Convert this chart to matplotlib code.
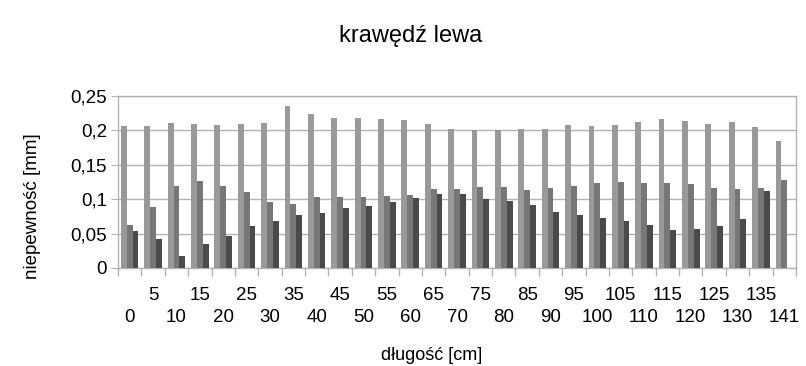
import matplotlib
matplotlib.use("Agg")
import matplotlib.pyplot as plt
import matplotlib.transforms as mtransforms
import numpy as np

categories = ["0", "5", "10", "15", "20", "25", "30", "35", "40", "45", "50", "55", "60", "65",
              "70", "75", "80", "85", "90", "95", "100", "105", "110", "115", "120", "125",
              "130", "135", "141"]
series_a = [0.207, 0.207, 0.211, 0.210, 0.2085, 0.210, 0.211, 0.236, 0.224, 0.2186,
            0.2186, 0.217, 0.2157, 0.210, 0.2027, 0.2013, 0.2013, 0.2027, 0.2027, 0.2085,
            0.207, 0.2085, 0.2128, 0.217, 0.2143, 0.210, 0.2128, 0.2056, 0.1853]
series_b = [0.0632, 0.0883, 0.1197, 0.126, 0.1197, 0.110, 0.0956, 0.0936, 0.1028, 0.1028,
            0.1028, 0.105, 0.1067, 0.1144, 0.1144, 0.1173, 0.1173, 0.113, 0.1158, 0.1197,
            0.123, 0.1245, 0.123, 0.123, 0.1216, 0.1158, 0.1144, 0.1158, 0.1274]
series_c = [0.0545, 0.0415, 0.0174, 0.0343, 0.0463, 0.0608, 0.068, 0.0767, 0.0796, 0.0869,
            0.0898, 0.0956, 0.1014, 0.107, 0.107, 0.0999, 0.097, 0.0912, 0.081, 0.0767,
            0.0724, 0.068, 0.0623, 0.055, 0.0565, 0.0608, 0.071, 0.1115, np.nan]
ytick_labels = ["0", "0,05", "0,1", "0,15", "0,2", "0,25"]

plt.rcParams['font.family'] = ['Liberation Sans', 'DejaVu Sans']

fig = plt.figure(figsize=(8.06, 3.66), dpi=100)
ax = fig.add_axes([118/806, (366-268)/366, (796-118)/806, (268-96)/366])

n = len(categories)
x = np.arange(n)
w = 0.25
ax.bar(x - w, series_a, width=w, color="#999999", zorder=3)
ax.bar(x, series_b, width=w, color="#777777", zorder=3)
ax.bar(x + w, series_c, width=w, color="#4a4a4a", zorder=3)

ax.set_xlim(-0.5, n - 0.5)
ax.set_ylim(0, 0.25)
ax.set_yticks([0, 0.05, 0.1, 0.15, 0.2, 0.25])
ax.set_yticklabels(ytick_labels, fontsize=13.5)
ax.yaxis.grid(True, color="#b3b3b3", linewidth=1, zorder=0)
ax.tick_params(axis='y', length=5, color="#b3b3b3", pad=3)

ax.set_xticks([])
ax.set_xticks(np.arange(-0.5, n, 1.0), minor=True)
ax.tick_params(axis='x', which='minor', length=6, color="#b3b3b3", width=1, labelbottom=False)

# staggered category labels (two rows)
trans = mtransforms.blended_transform_factory(ax.transData, fig.transFigure)
for i, c in enumerate(categories):
    ypix = 296 if i % 2 == 1 else 318
    ax.text(x[i], 1 - ypix/366, c, transform=trans, fontsize=13.5,
            ha="center", va="center")

for s in ax.spines.values():
    s.set_color("#b3b3b3")
    s.set_linewidth(1)

fig.text(411/806, 1 - 36/366, "krawędź lewa", fontsize=17, ha="center", va="center")
fig.text(432/806, 1 - 356/366, "długość [cm]", fontsize=13, ha="center", va="center")
fig.text(33/806, 1 - 206/366, "niepewność [mm]", fontsize=13.5, ha="center", va="center", rotation=90)

fig.savefig("out.png", dpi=100, facecolor="white")
